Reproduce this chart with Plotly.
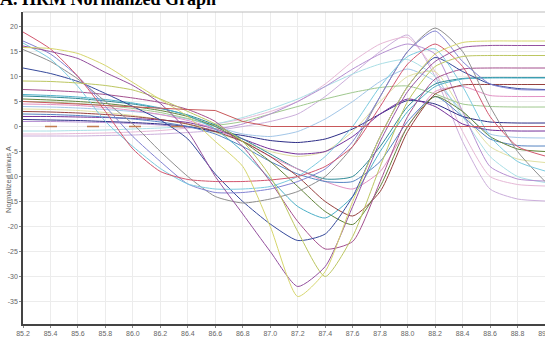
import plotly.graph_objects as go

# ---- data ----
temps = [85.2, 85.4, 85.6, 85.8, 86.0, 86.2, 86.4, 86.6, 86.8, 87.0,
         87.2, 87.4, 87.6, 87.8, 88.0, 88.2, 88.4, 88.6, 88.8, 89.0]

yellow      = [15.8, 15.6, 14.6, 12.2, 8.8, 5.4, 2.0, -3.0, -8.0, -20.0, -34.0, -29.0, -15.0, -2.0, 8.0, 14.5, 16.8, 17.1, 17.1, 17.1]
olive       = [9.1, 9.0, 8.7, 8.2, 7.3, 5.5, 3.0, 0.5, -3.0, -10.0, -21.0, -30.0, -22.0, -8.0, 5.0, 12.0, 14.0, 14.2, 14.2, 14.2]
purple      = [16.1, 15.0, 13.6, 10.8, 8.2, 4.6, -1.0, -10.0, -17.5, -25.0, -32.0, -28.0, -16.0, -3.0, 7.0, 13.0, 15.8, 16.2, 16.2, 16.2]
mauve       = [7.4, 7.2, 6.9, 6.4, 5.7, 4.8, 3.4, 1.0, -4.0, -11.0, -19.0, -24.5, -23.0, -11.0, 2.0, 9.5, 11.5, 11.7, 11.7, 11.7]
navy        = [11.7, 10.6, 9.0, 6.6, 4.0, 1.3, -2.5, -9.5, -15.0, -19.5, -22.8, -21.5, -14.0, -2.0, 8.0, 13.8, 11.0, 8.5, 7.6, 7.4]
teal        = [6.4, 6.2, 5.9, 5.4, 4.7, 3.7, 2.2, -0.5, -5.0, -10.5, -16.0, -18.3, -14.0, -5.0, 3.0, 8.0, 9.5, 9.7, 9.7, 9.7]
darkgreen   = [5.5, 5.3, 5.0, 4.6, 4.0, 3.2, 2.0, 0.0, -3.0, -7.0, -12.0, -17.0, -19.6, -12.0, 0.0, 6.0, 3.0, -2.0, -4.5, -5.0]
brown       = [3.0, 2.9, 2.7, 2.4, 2.0, 1.4, 0.5, -1.0, -3.0, -6.0, -10.0, -15.0, -17.9, -13.0, -1.0, 6.5, 8.3, 8.4, 8.4, 8.4]
gray        = [15.4, 13.0, 9.5, 5.0, 0.5, -5.0, -10.0, -14.0, -15.3, -14.5, -13.0, -10.0, -4.0, 6.0, 15.0, 19.7, 15.0, 4.0, -5.0, -11.0]
lavblue     = [17.1, 14.5, 10.0, 4.0, -2.0, -7.0, -11.5, -13.2, -13.2, -12.5, -11.0, -8.5, -3.0, 6.0, 15.0, 19.1, 13.0, 8.5, 7.4, 7.3]
red         = [18.9, 15.5, 10.0, 3.0, -4.5, -9.0, -10.6, -11.0, -11.0, -10.7, -10.0, -8.0, -4.0, 4.0, 12.5, 16.5, 12.0, 2.0, -4.0, -5.9]
cyan        = [16.7, 13.5, 8.0, 1.0, -4.0, -8.4, -11.5, -12.5, -12.5, -12.0, -10.0, -6.0, 0.0, 8.0, 14.0, 15.5, 8.0, -2.0, -7.0, -8.9]
pink        = [4.5, 4.4, 4.2, 3.8, 3.2, 2.4, 1.2, -0.5, -3.0, -6.0, -8.5, -11.0, -12.5, -9.0, 0.0, 7.0, 8.0, 6.2, 6.0, 6.0]
blue        = [2.5, 2.4, 2.2, 1.9, 1.5, 0.9, 0.0, -1.5, -4.0, -7.0, -9.5, -11.0, -11.0, -7.0, 1.0, 6.0, 2.0, -2.5, -3.8, -3.9]
lilac1      = [-1.9, -1.9, -1.9, -1.8, -1.7, -1.5, -1.2, -0.8, 0.0, 1.0, 2.5, 6.0, 10.5, 15.0, 18.3, 10.0, -3.0, -12.5, -14.5, -14.9]
lilac2      = [-1.5, -1.5, -1.4, -1.3, -1.1, -0.8, -0.3, 0.5, 1.5, 3.0, 5.0, 8.5, 13.0, 16.5, 17.8, 11.0, -1.0, -10.0, -11.6, -11.9]
lightcyan   = [-0.9, -0.9, -0.8, -0.7, -0.5, -0.3, 0.0, 0.5, 1.8, 3.5, 5.5, 8.0, 10.5, 12.5, 13.4, 10.0, 2.0, -6.0, -10.0, -11.2]
green       = [5.0, 4.9, 4.6, 4.2, 3.6, 2.8, 1.6, 0.3, 1.0, 2.5, 4.0, 5.5, 6.8, 7.8, 8.1, 6.5, 4.5, 4.0, 3.9, 3.9]
navy2       = [1.4, 1.3, 1.2, 1.0, 0.8, 0.5, 0.0, -1.0, -1.8, -2.8, -3.2, -2.5, -0.5, 2.5, 5.2, 4.5, 2.0, 0.9, 0.7, 0.7]
purple2     = [2.0, 2.0, 1.9, 1.8, 1.6, 1.3, 0.8, -0.5, -2.5, -4.5, -5.5, -5.0, -2.0, 2.5, 5.5, 4.0, 0.5, -0.7, -0.9, -0.9]
red0        = [5.0, 4.8, 4.5, 4.2, 3.9, 3.6, 3.4, 3.2, 1.0, 0.0, 0.0, 0.0, 0.0, 0.0, 0.0, 0.0, 0.0, 0.0, 0.0, 0.0]
darkteal    = [6.1, 5.9, 5.6, 5.1, 4.5, 3.6, 2.3, 0.3, -2.5, -5.5, -8.5, -10.5, -10.0, -4.0, 4.0, 8.5, 9.6, 9.8, 9.8, 9.8]
lightblue   = [4.0, 3.9, 3.7, 3.4, 3.0, 2.4, 1.5, 0.0, -1.5, -2.0, -1.0, 1.5, 5.0, 9.0, 11.5, 9.0, 3.0, -1.5, -2.2, -2.3]
paleyellow  = [3.5, 3.4, 3.2, 2.8, 2.2, 1.4, 0.4, -1.2, -3.0, -5.0, -6.0, -5.0, -1.0, 5.0, 10.0, 11.0, 3.0, -4.0, -6.5, -7.2]
purplelilac = [1.0, 1.0, 0.9, 0.8, 0.6, 0.3, -0.2, -0.5, 0.5, 2.5, 5.0, 8.0, 11.5, 14.5, 16.5, 14.5, 3.0, -8.0, -10.5, -10.9]
dashed_temps = [85.2, 85.4, 85.6, 85.8, 86.0, 86.2, 86.4]
dashed_vals  = [0.0, 0.0, 0.0, 0.0, 0.0, 0.0, 0.0]

x_ticks = [85.2, 85.4, 85.6, 85.8, 86.0, 86.2, 86.4, 86.6, 86.8, 87.0,
           87.2, 87.4, 87.6, 87.8, 88.0, 88.2, 88.4, 88.6, 88.8, 89.0]
y_ticks = [20, 15, 10, 5, 0, -5, -10, -15, -20, -25, -30, -35]

series = [
    ("lilac1", "#cbaedb", lilac1),
    ("lilac2", "#e6b8d6", lilac2),
    ("lightcyan", "#aadfe6", lightcyan),
    ("lightblue", "#a2c6e8", lightblue),
    ("paleyellow", "#e0e0a2", paleyellow),
    ("green", "#9fc88e", green),
    ("purplelilac", "#b690d2", purplelilac),
    ("navy2", "#2c2c86", navy2),
    ("purple2", "#74309a", purple2),
    ("darkteal", "#2f8a96", darkteal),
    ("pink", "#e292c4", pink),
    ("blue", "#5584c2", blue),
    ("brown", "#96403e", brown),
    ("darkgreen", "#62843a", darkgreen),
    ("teal", "#4cb0c8", teal),
    ("mauve", "#a4508e", mauve),
    ("navy", "#34489a", navy),
    ("gray", "#8e8e8e", gray),
    ("lavblue", "#8282d2", lavblue),
    ("cyan", "#7ccbe0", cyan),
    ("red", "#d2566e", red),
    ("olive", "#bcc660", olive),
    ("purple", "#94509e", purple),
    ("yellow", "#d6d66c", yellow),
]

fig = go.Figure()
for name, color, vals in series:
    fig.add_trace(go.Scatter(x=temps, y=vals, mode="lines", name=name,
                             line=dict(color=color, width=1, shape="spline", smoothing=0.6)))
fig.add_trace(go.Scatter(x=temps, y=red0, mode="lines", name="red0",
                         line=dict(color="#c8585a", width=1)))
fig.add_trace(go.Scatter(x=dashed_temps, y=dashed_vals, mode="lines", name="dashed",
                         line=dict(color="#c27c52", width=1.5, dash="0px,22px,12px,8px")))

fig.update_layout(
    width=545, height=339,
    margin=dict(l=23, r=0, t=12, b=15),
    paper_bgcolor="white", plot_bgcolor="white",
    showlegend=False,
    font=dict(family="Liberation Sans, Arial, sans-serif", size=7, color="#666"),
)
fig.update_xaxes(
    range=[85.2, 89.0], tickvals=x_ticks, ticktext=[f"{t:.1f}" for t in x_ticks],
    showgrid=True, gridcolor="#ececec", gridwidth=1,
    showline=True, linecolor="#444", linewidth=1.5,
    ticks="outside", ticklen=2, tickcolor="#888",
    tickfont=dict(size=7, color="#666"), zeroline=False,
    ticklabeloverflow="allow", automargin=False,
)
fig.update_yaxes(
    range=[-39.5, 22.9], tickvals=y_ticks, ticktext=[str(t) for t in y_ticks],
    showgrid=True, gridcolor="#ececec", gridwidth=1,
    showline=True, linecolor="#444", linewidth=1.5,
    ticks="outside", ticklen=2, tickcolor="#888",
    tickfont=dict(size=7, color="#666"), zeroline=False, automargin=False,
)
fig.add_shape(type="line", xref="paper", yref="paper", x0=0, x1=1, y0=1, y1=1,
              line=dict(color="#bbbbbb", width=1))
fig.add_annotation(text="Normalized minus A", xref="paper", yref="paper",
                   x=(8 - 23) / 522, y=(324 - 180) / 312, textangle=-90, showarrow=False,
                   font=dict(size=7.5, color="#666"), xanchor="center", yanchor="middle")
fig.add_annotation(text="<b>A. HRM Normalized Graph</b>", xref="paper", yref="paper",
                   x=(218 - 23) / 522, y=1.003, showarrow=False, xanchor="right", yanchor="bottom",
                   font=dict(size=18, color="black", family="Liberation Serif, Times New Roman, serif"))

fig.write_html("out.html", config={"displayModeBar": False},
               post_script="document.body.style.margin='0';document.body.style.overflow='hidden';")
